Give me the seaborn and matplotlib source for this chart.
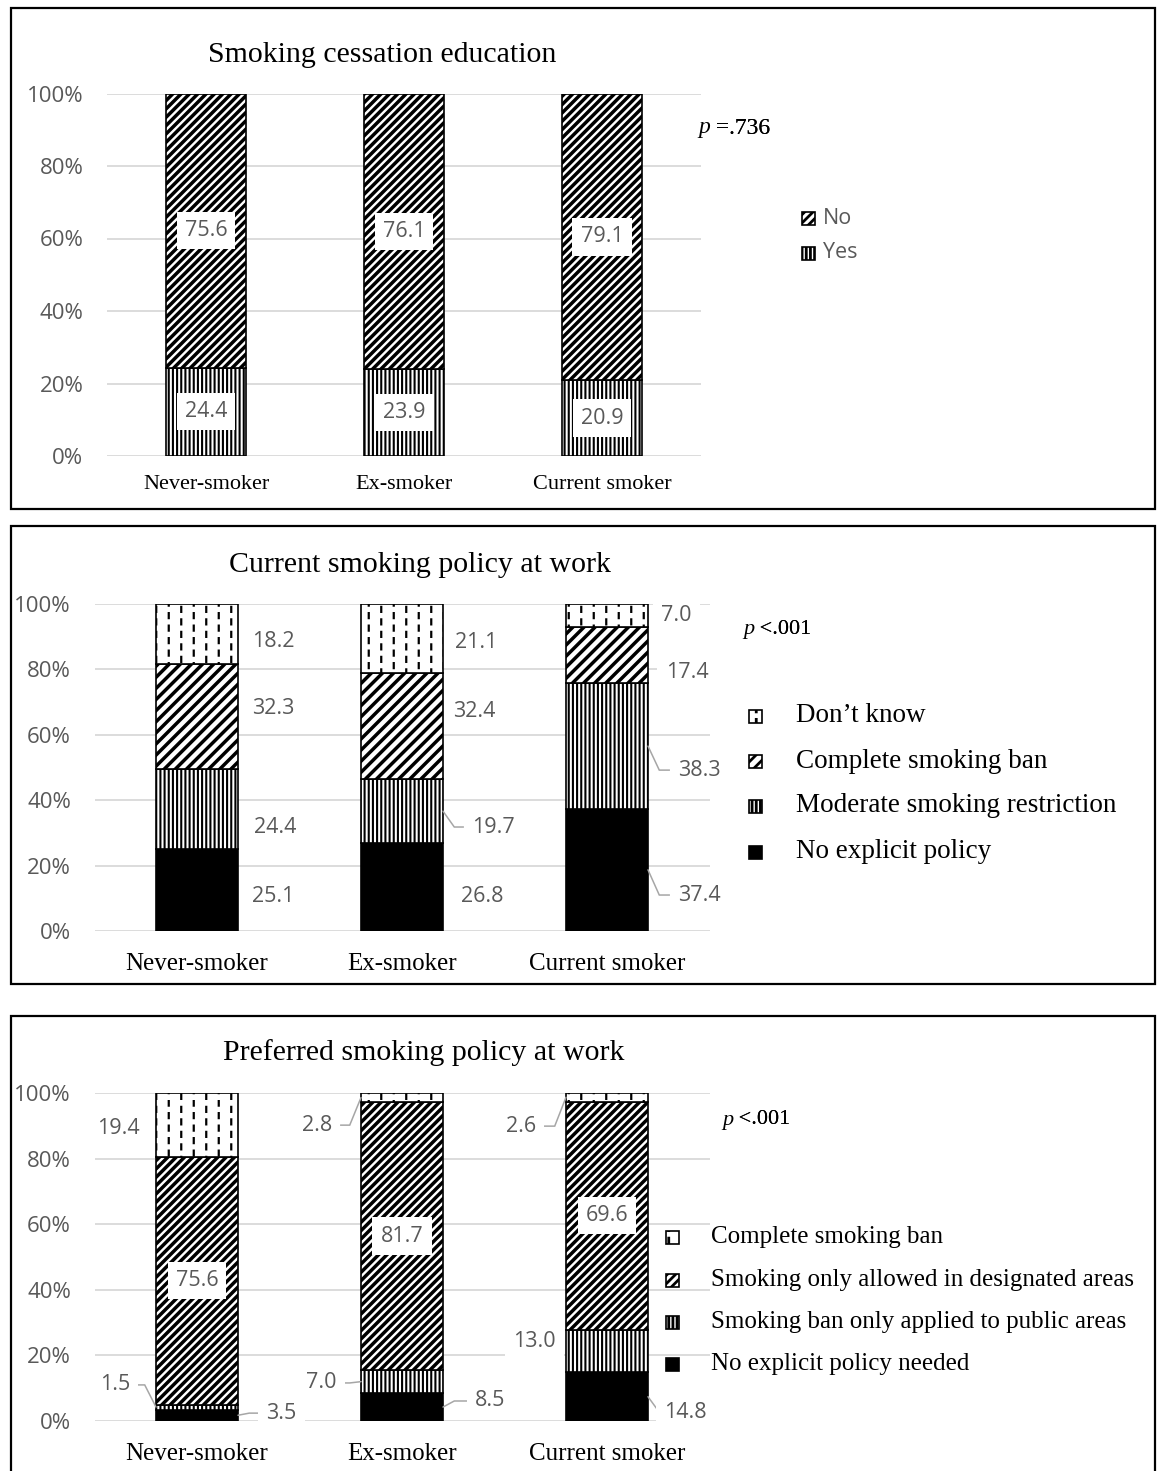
import numpy as np
import matplotlib
matplotlib.use("Agg")
import matplotlib.pyplot as plt
import matplotlib.hatch as mhatch
from matplotlib.path import Path
from matplotlib.patches import Rectangle
import seaborn as sns

# ---------------------------------------------------------------- data
groups = ["Never-smoker", "Ex-smoker", "Current smoker"]

titles = ["Smoking cessation education",
          "Current smoking policy at work",
          "Preferred smoking policy at work"]
p_texts = [" =.736", " <.001", " <.001"]

# Smoking cessation education (bottom -> top)
edu_labels = ["Yes", "No"]
edu_yes = [24.4, 23.9, 20.9]
edu_no = [75.6, 76.1, 79.1]

# Current smoking policy at work (bottom -> top)
cur_labels = ["No explicit policy", "Moderate smoking restriction",
              "Complete smoking ban", "Don\u2019t know"]
cur_none = [25.1, 26.8, 37.4]
cur_moderate = [24.4, 19.7, 38.3]
cur_ban = [32.3, 32.4, 17.4]
cur_unknown = [18.2, 21.1, 7.0]

# Preferred smoking policy at work (bottom -> top)
pref_labels = ["No explicit policy needed",
               "Smoking ban only applied to public areas",
               "Smoking only allowed in designated areas",
               "Complete smoking ban"]
pref_none = [3.5, 8.5, 14.8]
pref_public = [1.5, 7.0, 13.0]
pref_designated = [75.6, 81.7, 69.6]
pref_ban = [19.4, 2.8, 2.6]


# ------------------------------------------------- custom dash hatch ':'
class DashColumnHatch(mhatch.HatchPatternBase):
    """Short vertical dashes in staggered columns."""

    def __init__(self, hatch, density):
        n = hatch.count(":")
        self.num_cols = 4 * n
        self.num_rows = 4 * n
        self.num_vertices = self.num_cols * self.num_rows * 2

    def set_vertices_and_codes(self, vertices, codes):
        period = 1.0 / self.num_rows
        dash = 0.4 * period
        k = 0
        for c in range(self.num_cols):
            x = (c + 0.5) / self.num_cols
            shift = 0.5 * period if c % 2 else 0.0
            for r in range(self.num_rows):
                y0 = 0.05 * period + r * period + shift
                vertices[k] = (x, y0)
                vertices[k + 1] = (x, y0 + dash)
                codes[k] = Path.MOVETO
                codes[k + 1] = Path.LINETO
                k += 2


mhatch._hatch_types.append(DashColumnHatch)
mhatch._validate_hatch_pattern = lambda hatch: None

# ---------------------------------------------------------------- style
sns.set_theme(style="white")
SERIF = ["Liberation Serif", "DejaVu Serif"]
SANS = ["Open Sans", "DejaVu Sans"]
plt.rcParams["font.family"] = SANS
plt.rcParams["hatch.linewidth"] = 2.0
GRAY_TXT = "#595959"
GRID = "#D9D9D9"
LEADER = "#A6A6A6"

W, H = 1158, 1471
fig = plt.figure(figsize=(W / 100, H / 100), dpi=100)
fig.patch.set_facecolor("white")


def fxy(px, py):
    return px / W, 1 - py / H


def add_ax(left, top, right, bottom):
    return fig.add_axes([left / W, 1 - bottom / H, (right - left) / W, (bottom - top) / H])


BAR_W = 0.4
PER_PATCH = hasattr(Rectangle((0, 0), 1, 1), "set_hatch_linewidth")


def draw_stack(ax, layers, hatches, hatch_lws):
    bottom = np.zeros(len(groups))
    for vals, h, hlw in zip(layers, hatches, hatch_lws):
        solid = h == "solid"
        with plt.rc_context({"hatch.linewidth": hlw}):
            sns.barplot(x=groups, y=vals, bottom=bottom, ax=ax,
                        color="black" if solid else "white", saturation=1,
                        edgecolor="black", linewidth=1.2, width=BAR_W,
                        errorbar=None, hatch=None if solid else h, zorder=2)
        for bar in ax.patches[-len(groups):]:
            if PER_PATCH:
                bar.set_hatch_linewidth(hlw)
        bottom = bottom + np.asarray(vals)


def style_axes(ax, tick_size, cat_size, xpad):
    ax.set_xlim(-0.5, 2.5)
    ax.set_ylim(0, 100)
    ax.set_xlabel("")
    ax.set_ylabel("")
    ax.set_yticks(range(0, 101, 20), labels=[f"{v}%" for v in range(0, 101, 20)],
                  fontfamily=SANS, fontsize=tick_size, color=GRAY_TXT)
    ax.set_xticks(range(len(groups)), labels=groups,
                  fontfamily=SERIF, fontsize=cat_size, color="black")
    ax.tick_params(axis="both", length=0)
    ax.tick_params(axis="y", pad=17)
    ax.tick_params(axis="x", pad=xpad)
    ax.grid(False)
    ax.yaxis.grid(True, color=GRID, linewidth=1.3)
    ax.set_axisbelow(True)
    for s in ax.spines.values():
        s.set_visible(False)
    ax.patch.set_alpha(0)


def value_text(ax, x, y, v, ha="center", size=15.5):
    ax.text(x, y, f"{v:.1f}", ha=ha, va="center", fontsize=size, color=GRAY_TXT,
            fontfamily=SANS, zorder=5,
            bbox=dict(boxstyle="square,pad=0.38", facecolor="white", edgecolor="none"))


def label_stack(ax, layers, specs):
    bottom = np.zeros(len(groups))
    for vals, spec_row in zip(layers, specs):
        vals = np.asarray(vals)
        centers = bottom + vals / 2
        for i, (kind, dx, ly) in enumerate(spec_row):
            v = vals[i]
            if kind == "in":
                value_text(ax, i, centers[i], v)
            elif kind == "c":
                value_text(ax, i + dx, ly, v)
            else:
                side = 1 if kind == "R" else -1
                edge = i + side * BAR_W / 2
                elbow = edge + side * 0.055
                tx = edge + side * dx
                end = tx - side * 0.04
                if side * (end - elbow) < 0:
                    end = elbow
                ax.plot([edge, elbow, end], [centers[i], ly, ly], color=LEADER,
                        lw=1.1, zorder=4, solid_joinstyle="miter")
                value_text(ax, tx, ly, v, ha="left" if side == 1 else "right")
        bottom = bottom + vals


def legend_rows(entries, mx, rows, tx, size, family, color, box=13):
    for (lab, h), py in zip(entries, rows):
        solid = h == "solid"
        x0, y0 = fxy(mx - box / 2, py + box / 2)
        rect = Rectangle((x0, y0), box / W, box / H, transform=fig.transFigure,
                         facecolor="black" if solid else "white", edgecolor="black",
                         linewidth=1.2, hatch=None if solid else h)
        if PER_PATCH:
            rect.set_hatch_linewidth(2.0)
        fig.patches.append(rect)
        fig.text(*fxy(tx, py), lab, ha="left", va="center", fontsize=size,
                 fontfamily=family, color=color)


def p_value(px, py, txt, size):
    t = fig.text(*fxy(px, py), "p", ha="left", va="center", fontsize=size,
                 fontfamily=SERIF, fontstyle="italic", color="black")
    ann = plt.annotate(txt, xy=(1, 0.5), xycoords=t, ha="left", va="center",
                       fontsize=size, fontfamily=SERIF, color="black",
                       annotation_clip=False)
    return ann


def panel_box(left, top, right, bottom):
    x0, y0 = fxy(left, bottom)
    fig.patches.append(Rectangle((x0, y0), (right - left) / W, (bottom - top) / H,
                                 transform=fig.transFigure, fill=False,
                                 edgecolor="black", linewidth=1.6))


# ------------------------------------------------------------- panel 1
panel_box(11, 8, 1155, 509)
ax1 = add_ax(107, 93.5, 701, 456)
edu_layers = [edu_yes, edu_no]
edu_hatch = ["||||", "////"]
draw_stack(ax1, edu_layers, edu_hatch, [1.5, 2.5])
style_axes(ax1, 16, 16, 14)
label_stack(ax1, edu_layers, [[("in", 0, None)] * 3, [("in", 0, None)] * 3])
fig.text(*fxy(382, 55), titles[0], ha="center", va="center", fontsize=21.5,
         fontfamily=SERIF, color="black")
fig.add_artist(p_value(698, 128, p_texts[0], 17))
legend_rows(list(zip(edu_labels[::-1], edu_hatch[::-1])), 808, [218, 253], 823,
            15.5, SANS, GRAY_TXT)

# ------------------------------------------------------------- panel 2
panel_box(11, 526, 1155, 984)
ax2 = add_ax(94.5, 604, 709.5, 931)
cur_layers = [cur_none, cur_moderate, cur_ban, cur_unknown]
cur_hatch = ["solid", "||||", "///", "::"]
draw_stack(ax2, cur_layers, cur_hatch, [1.0, 1.5, 2.5, 1.6])
style_axes(ax2, 16, 18, 16)
label_stack(ax2, cur_layers, [
    [("c", 0.37, 10.7), ("c", 0.39, 10.4), ("R", 0.145, 11.0)],
    [("c", 0.38, 31.8), ("R", 0.14, 31.8), ("R", 0.145, 49.2)],
    [("c", 0.37, 67.9), ("c", 0.35, 67.0), ("c", 0.39, 78.9)],
    [("c", 0.37, 88.4), ("c", 0.36, 88.1), ("c", 0.34, 96.6)],
])
fig.text(*fxy(420, 565), titles[1], ha="center", va="center", fontsize=21.5,
         fontfamily=SERIF, color="black")
fig.add_artist(p_value(743, 630, p_texts[1], 16))
legend_rows(list(zip(cur_labels[::-1], cur_hatch[::-1])), 755,
            [716, 761, 806, 852], 796, 19.5, SERIF, "black")

# ------------------------------------------------------------- panel 3
panel_box(11, 1016, 1155, 1480)
ax3 = add_ax(94.5, 1093, 709.5, 1421)
pref_layers = [pref_none, pref_public, pref_designated, pref_ban]
pref_hatch = ["solid", "||||", "////", "::"]
draw_stack(ax3, pref_layers, pref_hatch, [1.0, 1.5, 2.5, 1.6])
style_axes(ax3, 16, 18, 16)
label_stack(ax3, pref_layers, [
    [("R", 0.137, 2.4), ("R", 0.156, 6.1), ("R", 0.08, 2.7)],
    [("L", 0.127, 11.0), ("L", 0.12, 11.6), ("c", -0.355, 24.1)],
    [("in", 0, None), ("in", 0, None), ("in", 0, None)],
    [("c", -0.385, 89.3), ("L", 0.14, 90.2), ("L", 0.146, 89.9)],
])
fig.text(*fxy(424, 1053), titles[2], ha="center", va="center", fontsize=21.5,
         fontfamily=SERIF, color="black")
fig.add_artist(p_value(722, 1120, p_texts[2], 16))
legend_rows(list(zip(pref_labels[::-1], pref_hatch[::-1])), 672,
            [1237, 1280, 1322, 1364], 711, 18, SERIF, "black")

fig.savefig("out.png", dpi=100, facecolor="white")
